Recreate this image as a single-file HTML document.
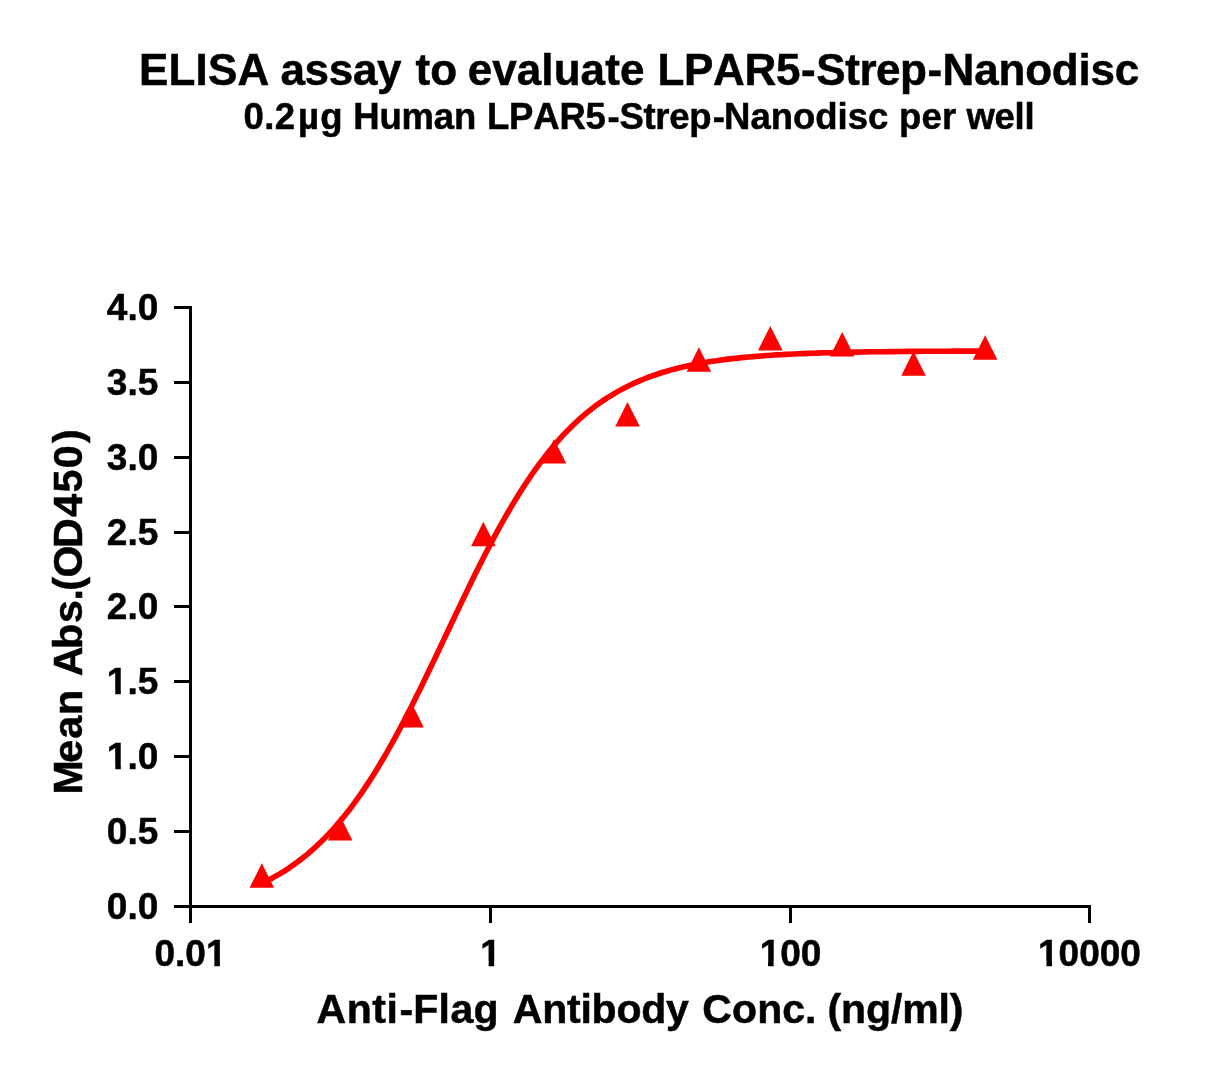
<!DOCTYPE html>
<html><head><meta charset="utf-8"><title>ELISA assay to evaluate LPAR5-Strep-Nanodisc</title>
<style>
html,body{margin:0;padding:0;background:#fff;}
svg{display:block;}
text{font-family:"Liberation Sans",Arial,Helvetica,sans-serif;font-weight:bold;fill:#000;stroke:#000;stroke-width:0.5;white-space:pre;font-kerning:none;font-feature-settings:"kern" 0;}
</style></head>
<body>
<svg width="1217" height="1075" viewBox="0 0 1217 1075">
<rect width="1217" height="1075" fill="#fff"/>
<text x="139.06 168.55 195.57 207.94 237.43 269.21 280.46 304.60 328.74 352.88 377.02 401.49 415.61 430.29 457.17 467.73 492.28 516.82 541.36 553.66 580.61 605.16 619.88 644.35 657.61 684.11 713.09 744.50 775.90 801.00 816.28 845.18 859.38 876.06 900.08 927.55 942.61 974.19 998.48 1025.17 1051.86 1078.55 1090.58 1114.87" y="84.7" font-size="44">ELISA assay to evaluate LPAR5-Strep-Nanodisc</text>
<text x="243.41 264.19 274.81 297.89 320.27 342.57 353.21 379.42 401.56 433.87 454.02 476.31 487.01 509.10 533.25 559.41 585.57 607.44 619.60 643.58 655.37 669.21 689.15 712.69 724.11 750.46 770.75 793.03 815.32 837.60 847.73 868.02 888.32 898.94 921.42 941.90 956.10 966.46 994.58 1014.62 1024.49" y="128.8" font-size="36.5">0.2µg Human LPAR5-Strep-Nanodisc per well</text>
<g fill="#000">
<rect x="189" y="306" width="3" height="602"/>
<rect x="174" y="905" width="917" height="3"/>
</g>
<g fill="#000" font-size="37">
<rect x="174" y="905" width="16" height="3"/>
<text x="106.86" y="919.40">0.0</text>
<rect x="174" y="830" width="16" height="3"/>
<text x="106.86" y="844.40">0.5</text>
<rect x="174" y="755" width="16" height="3"/>
<text x="106.86" y="769.40">1.0</text>
<rect x="108.00" y="764.57" width="7.26" height="7.23" fill="#fff"/><rect x="120.83" y="764.57" width="6.79" height="7.23" fill="#fff"/>
<rect x="174" y="680" width="16" height="3"/>
<text x="106.86" y="694.40">1.5</text>
<rect x="108.00" y="689.57" width="7.26" height="7.23" fill="#fff"/><rect x="120.83" y="689.57" width="6.79" height="7.23" fill="#fff"/>
<rect x="174" y="605" width="16" height="3"/>
<text x="106.86" y="619.40">2.0</text>
<rect x="174" y="531" width="16" height="3"/>
<text x="106.86" y="545.40">2.5</text>
<rect x="174" y="456" width="16" height="3"/>
<text x="106.86" y="470.40">3.0</text>
<rect x="174" y="381" width="16" height="3"/>
<text x="106.86" y="395.40">3.5</text>
<rect x="174" y="306" width="16" height="3"/>
<text x="106.86" y="320.40">4.0</text>
<rect x="189" y="905" width="3" height="18"/>
<text x="154.49" y="965.80">0.01</text>
<rect x="207.06" y="960.97" width="7.26" height="7.23" fill="#fff"/><rect x="219.89" y="960.97" width="6.79" height="7.23" fill="#fff"/>
<rect x="489" y="905" width="3" height="18"/>
<text x="480.21" y="965.80">1</text>
<rect x="481.34" y="960.97" width="7.26" height="7.23" fill="#fff"/><rect x="494.17" y="960.97" width="6.79" height="7.23" fill="#fff"/>
<rect x="789" y="905" width="3" height="18"/>
<text x="759.63" y="965.80">100</text>
<rect x="760.76" y="960.97" width="7.26" height="7.23" fill="#fff"/><rect x="773.60" y="960.97" width="6.79" height="7.23" fill="#fff"/>
<rect x="1088" y="905" width="3" height="18"/>
<text x="1038.06" y="965.80">10000</text>
<rect x="1039.19" y="960.97" width="7.26" height="7.23" fill="#fff"/><rect x="1052.02" y="960.97" width="6.79" height="7.23" fill="#fff"/>
</g>
<text x="316.44 346.65 372.30 386.55 399.44 413.21 438.62 450.38 473.55 498.59 512.83 542.21 567.03 580.45 591.62 616.43 641.25 666.07 688.87 702.37 732.03 757.13 782.23 805.08 816.47 827.61 841.12 866.02 890.93 902.18 938.49 949.74" y="1023.2" font-size="41">Anti-Flag Antibody Conc. (ng/ml)</text>
<text transform="translate(81.5,0) rotate(-90)" x="-794.38 -762.77 -738.71 -715.08 -689.88 -676.26 -648.91 -623.05 -600.61 -590.68 -577.42 -548.01 -516.77 -492.43 -468.14 -443.06" y="0" font-size="41.25">Mean Abs.(OD450)</text>
<path d="M262.0,883.3 L266.5,881.1 L271.1,878.8 L275.6,876.2 L280.2,873.6 L284.7,870.8 L289.3,867.8 L293.8,864.6 L298.4,861.3 L302.9,857.8 L307.5,854.1 L312.0,850.2 L316.6,846.1 L321.1,841.7 L325.7,837.2 L330.2,832.4 L334.8,827.4 L339.3,822.1 L343.9,816.6 L348.4,810.9 L353.0,804.9 L357.5,798.6 L362.1,792.1 L366.6,785.4 L371.1,778.4 L375.7,771.2 L380.2,763.7 L384.8,756.0 L389.3,748.0 L393.9,739.8 L398.4,731.5 L403.0,722.9 L407.5,714.1 L412.1,705.2 L416.6,696.1 L421.2,686.9 L425.7,677.5 L430.3,668.1 L434.8,658.6 L439.4,649.0 L443.9,639.4 L448.5,629.8 L453.0,620.2 L457.6,610.6 L462.1,601.1 L466.7,591.6 L471.2,582.3 L475.7,573.0 L480.3,563.9 L484.8,555.0 L489.4,546.2 L493.9,537.6 L498.5,529.2 L503.0,521.0 L507.6,513.0 L512.1,505.3 L516.7,497.8 L521.2,490.5 L525.8,483.5 L530.3,476.7 L534.9,470.2 L539.4,463.9 L544.0,457.9 L548.5,452.1 L553.1,446.6 L557.6,441.3 L562.2,436.2 L566.7,431.4 L571.3,426.8 L575.8,422.5 L580.3,418.3 L584.9,414.4 L589.4,410.7 L594.0,407.1 L598.5,403.8 L603.1,400.6 L607.6,397.6 L612.2,394.8 L616.7,392.1 L621.3,389.6 L625.8,387.2 L630.4,385.0 L634.9,382.8 L639.5,380.9 L644.0,379.0 L648.6,377.2 L653.1,375.6 L657.7,374.0 L662.2,372.5 L666.8,371.2 L671.3,369.9 L675.8,368.7 L680.4,367.5 L684.9,366.5 L689.5,365.5 L694.0,364.5 L698.6,363.7 L703.1,362.8 L707.7,362.1 L712.2,361.3 L716.8,360.7 L721.3,360.0 L725.9,359.4 L730.4,358.9 L735.0,358.4 L739.5,357.9 L744.1,357.4 L748.6,357.0 L753.2,356.6 L757.7,356.2 L762.3,355.9 L766.8,355.5 L771.4,355.2 L775.9,354.9 L780.4,354.7 L785.0,354.4 L789.5,354.2 L794.1,354.0 L798.6,353.8 L803.2,353.6 L807.7,353.4 L812.3,353.2 L816.8,353.1 L821.4,352.9 L825.9,352.8 L830.5,352.7 L835.0,352.6 L839.6,352.4 L844.1,352.3 L848.7,352.2 L853.2,352.1 L857.8,352.1 L862.3,352.0 L866.9,351.9 L871.4,351.8 L876.0,351.8 L880.5,351.7 L885.0,351.7 L889.6,351.6 L894.1,351.6 L898.7,351.5 L903.2,351.5 L907.8,351.4 L912.3,351.4 L916.9,351.4 L921.4,351.3 L926.0,351.3 L930.5,351.3 L935.1,351.2 L939.6,351.2 L944.2,351.2 L948.7,351.2 L953.3,351.1 L957.8,351.1 L962.4,351.1 L966.9,351.1 L971.5,351.1 L976.0,351.1 L980.6,351.0 L985.1,351.0" fill="none" stroke="#ff0000" stroke-width="5.6" stroke-linejoin="round" stroke-linecap="butt"/>
<g fill="#ff0000">
<polygon points="249.55,887.8 274.05,887.8 261.80,863.3"/>
<polygon points="327.95,840.6 352.45,840.6 340.20,816.1"/>
<polygon points="399.30,727.4 423.80,727.4 411.55,702.9"/>
<polygon points="471.05,546.3 495.55,546.3 483.30,521.8"/>
<polygon points="541.75,463.6 566.25,463.6 554.00,439.1"/>
<polygon points="615.25,426.6 639.75,426.6 627.50,402.1"/>
<polygon points="686.65,371.8 711.15,371.8 698.90,347.3"/>
<polygon points="758.05,350.5 782.55,350.5 770.30,326.0"/>
<polygon points="829.95,356.6 854.45,356.6 842.20,332.1"/>
<polygon points="901.25,375.8 925.75,375.8 913.50,351.3"/>
<polygon points="972.85,359.7 997.35,359.7 985.10,335.2"/>
</g>
</svg>
</body></html>
